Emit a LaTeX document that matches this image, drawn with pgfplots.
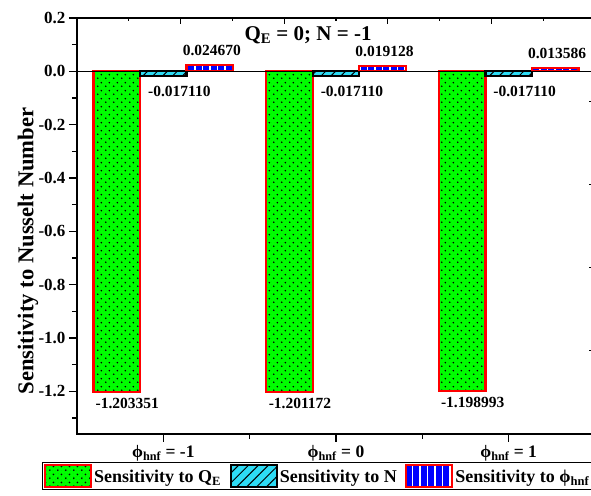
\documentclass[border=0pt]{standalone}
\usepackage{fontspec}
\setmainfont{Liberation Serif}
\usepackage{pgfplots}
\pgfplotsset{compat=1.18}
\usetikzlibrary{patterns,patterns.meta}

\definecolor{qgreen}{RGB}{0,255,0}
\definecolor{ncyan}{RGB}{45,220,245}
\definecolor{pblue}{RGB}{0,0,255}
\definecolor{bred}{RGB}{255,0,0}

\tikzdeclarepattern{
  name=bigdots, type=uncolored,
  bottom left={(0bp,0bp)}, top right={(8bp,8bp)},
  tile size={(8bp,8bp)},
  code={\fill (2bp,2bp) circle (1bp); \fill (6bp,6bp) circle (1bp);}
}
\tikzdeclarepattern{
  name=finedots, type=uncolored,
  bottom left={(0bp,0bp)}, top right={(3bp,3bp)},
  tile size={(3bp,3bp)},
  code={\fill (1.5bp,1.5bp) circle (0.3bp);}
}

\pgfplotsset{
  qstyle/.style={fill=qgreen, draw=bred, line width=2.2bp,
    postaction={pattern=finedots, pattern color=qgreen!55!black},
    postaction={pattern=bigdots, pattern color=black}},
  nstyle/.style={fill=ncyan, draw=black, line width=2.2bp,
    postaction={pattern={Lines[angle=45,distance=7bp,line width=1bp]}, pattern color=black}},
  pstyle/.style={fill=pblue, draw=bred, line width=2.2bp,
    postaction={pattern={Lines[angle=90,distance=7.5bp,line width=1.2bp]}, pattern color=white}},
  mylegimg/.style={legend image code/.code={\draw[##1] (0bp,-10bp) rectangle (46bp,12bp);}},
}

\begin{document}
\begin{tikzpicture}
\begin{axis}[
  at={(77bp,62bp)}, anchor=south west,
  scale only axis, width=518bp, height=416bp,
  xmin=-0.5, xmax=2.5, ymin=-1.36, ymax=0.2,
  xtick={0,1,2},
  xticklabels={{ϕ\textsubscript{hnf} = -1},{ϕ\textsubscript{hnf} = 0},{ϕ\textsubscript{hnf} = 1}},
  minor xtick={0.5,1.5},
  ytick={-1.2,-1.0,-0.8,-0.6,-0.4,-0.2,0,0.2},
  minor ytick={-1.3,-1.1,-0.9,-0.7,-0.5,-0.3,-0.1,0.1},
  xtick pos=left, ytick pos=left, tick align=outside,
  major tick length=8bp, minor tick length=5bp,
  every tick/.style={black, line width=1.5bp},
  axis line style={line width=1.6bp},
  /pgf/number format/assume math mode=true,
  yticklabel style={/pgf/number format/fixed, /pgf/number format/fixed zerofill, /pgf/number format/precision=1,
    font=\bfseries\fontsize{17bp}{17bp}\selectfont},
  xticklabel style={font=\bfseries\fontsize{17.5bp}{17bp}\selectfont},
  ylabel={Sensitivity to Nusselt Number},
  ylabel style={at={(axis description cs:-0.0946,0.44)}, anchor=center, font=\bfseries\fontsize{22.6bp}{24bp}\selectfont},
  title={Q\textsubscript{E} = 0; N = -1},
  title style={at={(axis description cs:0.446,0.944)}, anchor=center, font=\bfseries\fontsize{21bp}{22bp}\selectfont},
  legend columns=3,
  legend style={at={(axis description cs:-0.0676,-0.0673)}, anchor=north west, draw=black, line width=1bp,
    font=\bfseries\fontsize{18bp}{20bp}\selectfont, inner sep=1.5bp,
    /tikz/every even column/.append style={column sep=6.5bp}},
  legend cell align=left,
]
\addplot[ybar, bar width=46.5bp, bar shift=-46.5bp, qstyle, mylegimg,
  nodes near coords, point meta=explicit symbolic,
  every node near coord/.append style={anchor=north, xshift=-36bp, yshift=-5bp, inner sep=0pt, text=black,
    font=\bfseries\fontsize{15.5bp}{16bp}\selectfont}]
  coordinates {(0,-1.203351) [-1.203351] (1,-1.201172) [-1.201172] (2,-1.198993) [-1.198993]};
\addlegendentry{Sensitivity to Q\textsubscript{E}}
\addplot[ybar, bar width=46.5bp, bar shift=0bp, nstyle, mylegimg,
  nodes near coords, point meta=explicit symbolic,
  every node near coord/.append style={anchor=north, xshift=16bp, yshift=-9bp, inner sep=0pt, text=black,
    font=\bfseries\fontsize{15.5bp}{16bp}\selectfont}]
  coordinates {(0,-0.017110) [-0.017110] (1,-0.017110) [-0.017110] (2,-0.017110) [-0.017110]};
\addlegendentry{Sensitivity to N}
\addplot[ybar, bar width=46.5bp, bar shift=46.5bp, pstyle, mylegimg,
  nodes near coords, point meta=explicit symbolic,
  every node near coord/.append style={anchor=south, xshift=48.5bp, yshift=8bp, inner sep=0pt, text=black,
    font=\bfseries\fontsize{15.5bp}{16bp}\selectfont}]
  coordinates {(0,0.024670) [0.024670] (1,0.019128) [0.019128] (2,0.013586) [0.013586]};
\addlegendentry{Sensitivity to ϕ\textsubscript{hnf}}
\addplot[black, line width=1.5bp, forget plot] coordinates {(-0.5,0) (2.5,0)};
\end{axis}
\begin{axis}[
  at={(77bp,62bp)}, anchor=south west,
  scale only axis, width=518bp, height=416bp,
  xmin=0, xmax=10, ymin=0, ymax=10,
  xtick={2,4,6,8}, ytick={2,4,6,8},
  minor xtick={1,3,5,7,9}, minor ytick={1,3,5,7,9},
  xtick pos=right, ytick pos=right, tick align=inside,
  xticklabels={}, yticklabels={},
  major tick length=6bp, minor tick length=3bp,
  every tick/.style={black, line width=1.3bp},
  axis line style={line width=1.6bp},
]
\end{axis}
\pgfresetboundingbox
\path (0,0) rectangle (591bp,496bp);
\end{tikzpicture}
\end{document}
